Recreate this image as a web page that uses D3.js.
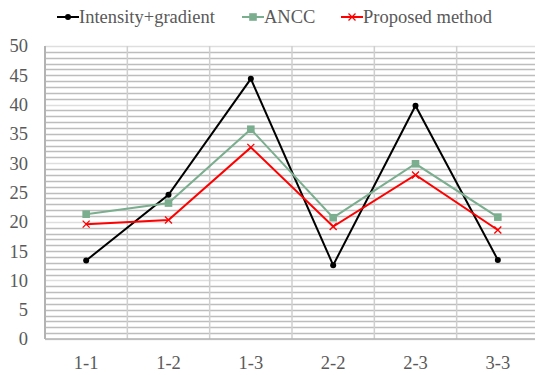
<!DOCTYPE html>
<html>
<head>
<meta charset="utf-8">
<script src="https://cdn.jsdelivr.net/npm/d3@7"></script>
<style>
  body { margin: 0; background: #ffffff; overflow: hidden; }
  text { font-family: "Liberation Serif", "Times New Roman", serif; fill: #595959; }
</style>
</head>
<body>
<div id="chart"></div>
<script>
// Categories and series values
const categories = ['1-1', '1-2', '1-3', '2-2', '2-3', '3-3'];
const intensityGradient = [13.4, 24.6, 44.4, 12.6, 39.8, 13.5];
const ancc = [21.3, 23.2, 35.8, 20.7, 29.9, 20.8];
const proposed = [19.6, 20.3, 32.7, 19.2, 28.0, 18.6];
const yTicks = [0, 5, 10, 15, 20, 25, 30, 35, 40, 45, 50];

const series = [
  { name: 'Intensity+gradient', values: intensityGradient, color: '#000000', marker: 'circle' },
  { name: 'ANCC', values: ancc, color: '#7aae8e', marker: 'square' },
  { name: 'Proposed method', values: proposed, color: '#ff0000', marker: 'cross' }
];

const width = 535;
const height = 375;
const margin = { top: 46, right: -4, bottom: 36, left: 45 };

const svg = d3.select('#chart')
  .append('svg')
  .attr('width', width)
  .attr('height', height);

// Scales
const x = d3.scaleBand()
  .domain(categories)
  .range([margin.left, width - margin.right]);

const y = d3.scaleLinear()
  .domain([0, 50])
  .range([height - margin.bottom, margin.top]);

// Horizontal gridlines every 1 unit
const minorValues = d3.range(0, 51, 1);
svg.append('g')
  .attr('class', 'grid horizontal-grid')
  .selectAll('line')
  .data(minorValues)
  .enter()
  .append('line')
  .attr('x1', margin.left)
  .attr('x2', width - margin.right)
  .attr('y1', d => Math.round(y(d)) + 0.5)
  .attr('y2', d => Math.round(y(d)) + 0.5)
  .attr('stroke', d => d % 10 === 0 ? '#dedede' : '#bdbdbd')
  .attr('stroke-width', 1.3);

// Vertical gridlines at category boundaries
svg.append('g')
  .attr('class', 'grid vertical-grid')
  .selectAll('line')
  .data(categories.slice(1))
  .enter()
  .append('line')
  .attr('x1', d => x(d))
  .attr('x2', d => x(d))
  .attr('y1', y(50))
  .attr('y2', y(0))
  .attr('stroke', '#cfcfcf')
  .attr('stroke-width', 1.5);

// Axis lines
svg.append('line')
  .attr('x1', margin.left)
  .attr('x2', margin.left)
  .attr('y1', y(50))
  .attr('y2', y(0))
  .attr('stroke', '#b3b3b3')
  .attr('stroke-width', 2);

svg.append('line')
  .attr('x1', margin.left)
  .attr('x2', width - margin.right)
  .attr('y1', y(0))
  .attr('y2', y(0))
  .attr('stroke', '#b3b3b3')
  .attr('stroke-width', 1.5);

// Y axis labels
const yAxis = svg.append('g')
  .attr('class', 'axis y-axis')
  .attr('transform', `translate(${margin.left},0)`)
  .call(d3.axisLeft(y).tickValues(yTicks).tickSize(0).tickPadding(17));
yAxis.select('.domain').remove();
yAxis.selectAll('text')
  .attr('font-size', '18.5px')
  .attr('font-family', 'Liberation Serif, serif')
  .attr('fill', '#595959');

// X axis labels
const xAxis = svg.append('g')
  .attr('class', 'axis x-axis')
  .attr('transform', `translate(0,${y(0)})`)
  .call(d3.axisBottom(x).tickSize(0).tickPadding(17));
xAxis.select('.domain').remove();
xAxis.selectAll('text')
  .attr('font-size', '18.5px')
  .attr('font-family', 'Liberation Serif, serif')
  .attr('fill', '#595959');

// Lines
const line = d3.line()
  .x((d, i) => x(categories[i]) + x.bandwidth() / 2)
  .y(d => y(d));

function drawMarker(g, type, color) {
  if (type === 'circle') {
    g.append('circle').attr('r', 3).attr('fill', color);
  } else if (type === 'square') {
    g.append('rect').attr('x', -3.8).attr('y', -3.8).attr('width', 7.6).attr('height', 7.6).attr('fill', color);
  } else {
    g.append('path').attr('d', 'M-3.5,-3.5L3.5,3.5M-3.5,3.5L3.5,-3.5')
      .attr('stroke', color).attr('stroke-width', 1.3).attr('fill', 'none');
  }
}

series.forEach(s => {
  svg.append('path')
    .datum(s.values)
    .attr('d', line)
    .attr('fill', 'none')
    .attr('stroke', s.color)
    .attr('stroke-width', 2);

  s.values.forEach((v, i) => {
    const g = svg.append('g')
      .attr('transform', `translate(${x(categories[i]) + x.bandwidth() / 2},${y(v)})`);
    drawMarker(g, s.marker, s.color);
  });
});

// Legend
const legendX = [57, 242, 341];
const legend = svg.append('g').attr('class', 'legend');
series.forEach((s, i) => {
  const g = legend.append('g').attr('transform', `translate(${legendX[i]},17)`);
  g.append('line')
    .attr('x1', 0).attr('x2', 22)
    .attr('stroke', s.color).attr('stroke-width', 2);
  const m = g.append('g').attr('transform', 'translate(11,0)');
  drawMarker(m, s.marker, s.color);
  g.append('text')
    .attr('x', 22)
    .attr('y', 6)
    .attr('font-size', '18.5px')
    .attr('fill', '#595959')
    .text(s.name);
});
</script>
</body>
</html>
